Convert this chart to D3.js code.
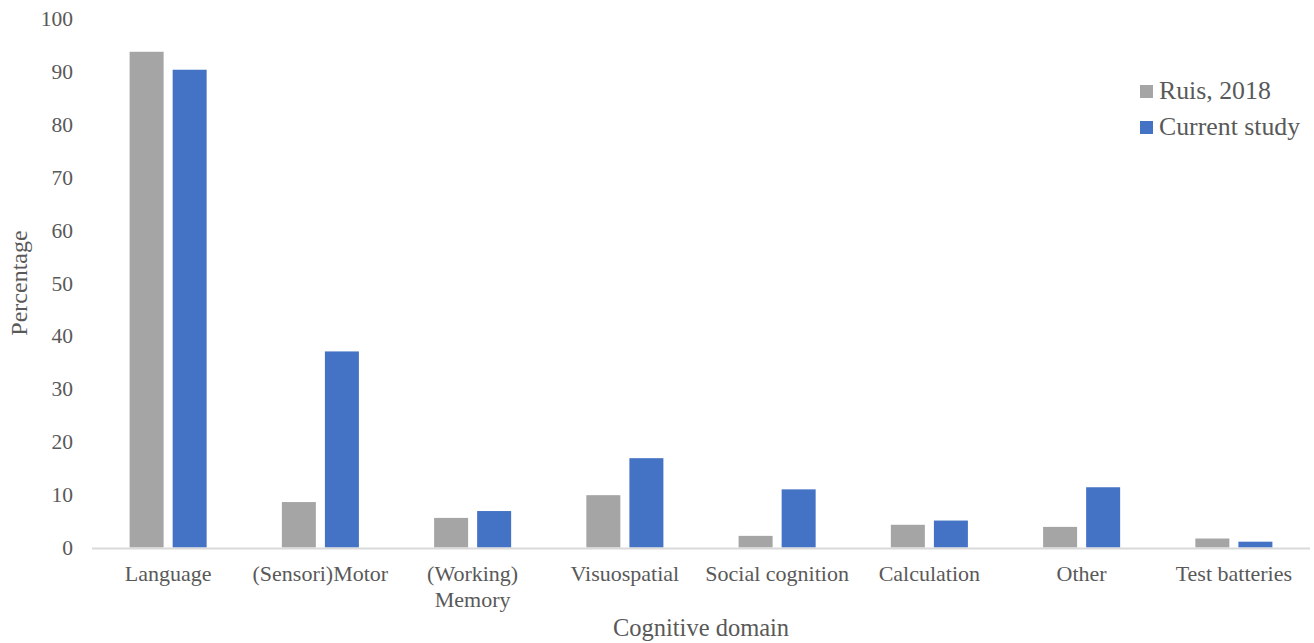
<!DOCTYPE html>
<html lang="en">
<head>
  <meta charset="UTF-8">
  <title>Cognitive domain</title>
  <script src="https://d3js.org/d3.v7.min.js"></script>
  <style>
    body { margin: 0; background: #fff; }
    text { font-family: "Liberation Serif", "Times New Roman", serif; fill: #595959; }
  </style>
</head>
<body>
<script>
  // chart values
  var categories = ["Language", "(Sensori)Motor", "(Working) Memory", "Visuospatial",
    "Social cognition", "Calculation", "Other", "Test batteries"];
  var seriesNames = ["Ruis, 2018", "Current study"];
  var ruis2018 = [93.8, 8.6, 5.6, 9.9, 2.2, 4.3, 3.9, 1.7];
  var currentStudy = [90.4, 37.1, 6.9, 16.9, 11.0, 5.1, 11.4, 1.1];
  var yTicks = [0, 10, 20, 30, 40, 50, 60, 70, 80, 90, 100];
  var colors = ["#a5a5a5", "#4472c4"];

  var width = 1314, height = 643;
  var margin = { top: 19, right: 4, bottom: 95, left: 92 };

  var svg = d3.select("body").append("svg")
    .attr("width", width)
    .attr("height", height);

  var x0 = d3.scaleBand()
    .domain(categories)
    .range([margin.left, width - margin.right])
    .paddingInner(0.494)
    .paddingOuter(0.247);

  var x1 = d3.scaleBand()
    .domain(seriesNames)
    .range([0, x0.bandwidth()])
    .paddingInner(0.21);

  var y = d3.scaleLinear()
    .domain([0, 100])
    .range([height - margin.bottom - 0.5, margin.top]);

  var rows = categories.map(function (c, i) {
    return { cat: c, values: [ruis2018[i], currentStudy[i]] };
  });

  // bars
  var groups = svg.selectAll(".grp")
    .data(rows)
    .enter().append("g")
    .attr("class", "grp")
    .attr("transform", function (d) { return "translate(" + x0(d.cat) + ",0)"; });

  groups.selectAll("rect")
    .data(function (d) { return d.values.map(function (v, i) { return { name: seriesNames[i], v: v, i: i }; }); })
    .enter().append("rect")
    .attr("x", function (d) { return x1(d.name); })
    .attr("width", x1.bandwidth())
    .attr("y", function (d) { return y(d.v); })
    .attr("height", function (d) { return y(0) - y(d.v); })
    .style("fill", function (d) { return colors[d.i]; });

  // x axis line
  svg.append("line")
    .attr("x1", margin.left)
    .attr("x2", width - margin.right)
    .attr("y1", y(0) + 1)
    .attr("y2", y(0) + 1)
    .style("stroke", "#d9d9d9")
    .style("stroke-width", 2);

  // y tick labels
  var yAxis = d3.axisLeft(y).tickValues(yTicks).tickSize(0).tickPadding(0);
  var gy = svg.append("g")
    .attr("transform", "translate(73,0)")
    .call(yAxis);
  gy.select(".domain").remove();
  gy.selectAll("text")
    .style("font-size", "21.5px")
    .style("font-family", "Liberation Serif")
    .attr("fill", "#595959");

  // x category labels (wrap on two lines for Memory)
  var xAxis = d3.axisBottom(x0).tickSize(0).tickFormat("");
  var gx = svg.append("g")
    .attr("transform", "translate(0," + y(0) + ")")
    .call(xAxis);
  gx.select(".domain").remove();

  svg.selectAll(".xlab")
    .data(categories)
    .enter().append("text")
    .attr("class", "xlab")
    .attr("text-anchor", "middle")
    .style("font-size", "22px")
    .attr("transform", function (d) { return "translate(" + (x0(d) + x0.bandwidth() / 2) + ",581)"; })
    .each(function (d) {
      var lines = d === "(Working) Memory" ? ["(Working)", "Memory"] : [d];
      var t = d3.select(this);
      lines.forEach(function (l, i) {
        t.append("tspan").attr("x", 0).attr("dy", i === 0 ? 0 : 26).text(l);
      });
    });

  // axis titles
  svg.append("text")
    .attr("x", (margin.left + width - margin.right) / 2)
    .attr("y", 636)
    .attr("text-anchor", "middle")
    .style("font-size", "24.5px")
    .text("Cognitive domain");

  svg.append("text")
    .attr("transform", "translate(27,283) rotate(-90)")
    .attr("text-anchor", "middle")
    .style("font-size", "24px")
    .text("Percentage");

  // legend
  var legend = svg.selectAll(".leg")
    .data(seriesNames)
    .enter().append("g")
    .attr("class", "leg")
    .attr("transform", function (d, i) { return "translate(1140," + (85 + i * 36) + ")"; });

  legend.append("rect")
    .attr("width", 13)
    .attr("height", 13)
    .style("fill", function (d, i) { return colors[i]; });

  legend.append("text")
    .attr("x", 19)
    .attr("y", 14)
    .style("font-size", "25.8px")
    .text(function (d) { return d; });
</script>
</body>
</html>
